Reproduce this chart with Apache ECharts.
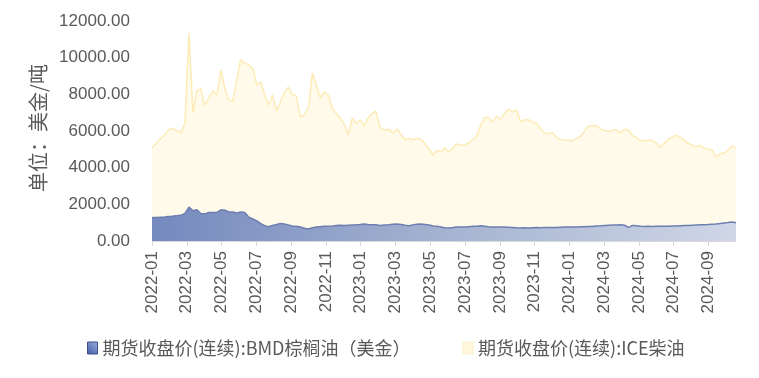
<!DOCTYPE html>
<html>
<head>
<meta charset="utf-8">
<script src="https://cdn.jsdelivr.net/npm/echarts@6/dist/echarts.min.js"></script>
<style>
  html, body { margin: 0; padding: 0; background: #fff; }
  #chart { width: 759px; height: 378px; }
</style>
</head>
<body>
<div id="chart"></div>
<script>
// 周度数据, 从 2022-01-01 开始每 7 天一个点
var startDay = '2022-01-01'
var seriesNames = ['期货收盘价(连续):BMD棕榈油（美金）', '期货收盘价(连续):ICE柴油']

// ICE柴油 (美金/吨)
var iceDiesel = [
  5070, 5300, 5550, 5750, 6000, 6150, 6050, 5900, 6400, 11350,
  7000, 8200, 8300, 7400, 7800, 8200, 7960, 9330, 8300, 7700,
  7600, 8800, 9900, 9700, 9600, 9400, 8510, 8670, 7950, 7420,
  7960, 7100, 7580, 8100, 8400, 8000, 7900, 6760, 6900, 7310,
  9160, 8500, 7800, 8130, 7960, 7250, 6950, 6700, 6350, 5780,
  6710, 6400, 6600, 6250, 6700, 6950, 7100, 6200, 6050, 6100,
  5900, 6100, 5800, 5540, 5600, 5510, 5600, 5550, 5320, 5030,
  4690, 4950, 4860, 5070, 4850, 5070, 5300, 5220, 5220, 5380,
  5510, 5720, 6330, 6710, 6760, 6490, 6800, 6650, 6950, 7200,
  7040, 7150, 6500, 6600, 6620, 6480, 6440, 6130, 5900, 5850,
  5900, 5650, 5550, 5500, 5500, 5470, 5580, 5700, 5950, 6250,
  6300, 6300, 6100, 6010, 5970, 6050, 6050, 5900, 6100, 6050,
  5750, 5620, 5450, 5470, 5510, 5480, 5350, 5120, 5350, 5560,
  5650, 5780, 5650, 5480, 5330, 5220, 5130, 5220, 5070, 5000,
  4980, 4580, 4760, 4800, 4950, 5200, 5070
]

// BMD棕榈油 (美金/吨)
var bmdPalm = [
  1280, 1280, 1290, 1300, 1330, 1350, 1380, 1400, 1500, 1850,
  1650, 1700, 1500, 1480, 1550, 1560, 1560, 1700, 1680, 1580,
  1580, 1530, 1580, 1560, 1300, 1200, 1100, 950, 840, 780,
  850, 900, 960, 930, 880, 820, 800, 760, 700, 650,
  720, 760, 780, 800, 810, 820, 850, 860, 850, 860,
  870, 880, 900, 930, 900, 890, 880, 850, 870, 880,
  910, 930, 900, 860, 830, 880, 920, 930, 900, 870,
  820, 800, 760, 720, 710, 730, 760, 770, 760, 780,
  800, 810, 830, 810, 780, 770, 760, 770, 760, 750,
  740, 720, 710, 720, 710, 720, 730, 720, 730, 740,
  740, 740, 750, 760, 760, 770, 770, 780, 780, 790,
  790, 820, 830, 850, 860, 870, 870, 880, 860, 740,
  850, 830, 800, 790, 800, 790, 800, 800, 810, 810,
  820, 820, 830, 840, 850, 860, 870, 880, 890, 900,
  920, 930, 950, 980, 1010, 1040, 1000
]

// 日期 -> 从 2022-01 起的月份数 (带小数)
function toMonth(d) {
  var days = new Date(d.getFullYear(), d.getMonth() + 1, 0).getDate()
  return (d.getFullYear() - 2022) * 12 + d.getMonth() + (d.getDate() - 1) / days
}

var base = new Date(startDay + 'T00:00:00')
var xs = iceDiesel.map(function (v, i) {
  var d = new Date(base.getFullYear(), base.getMonth(), base.getDate() + i * 7)
  return toMonth(d)
})
var xMax = xs[xs.length - 1]

var monthTicks = []
for (var m = 0; m <= xMax; m += 2) monthTicks.push(m)

function monthLabel(m) {
  var y = 2022 + Math.floor(m / 12)
  var mm = (m % 12) + 1
  return y + '-' + (mm < 10 ? '0' + mm : mm)
}

var labelFont = 'Liberation Sans'
var cjkFont = '"Noto Sans CJK SC", "Liberation Sans", sans-serif'

var chart = echarts.init(document.getElementById('chart'))
chart.setOption({
  animation: false,
  grid: { left: 152, right: 23, top: 21, bottom: 137 },
  legend: {
    top: 334,
    left: 82,
    itemGap: 52,
    itemWidth: 10,
    itemHeight: 12,
    icon: 'rect',
    textStyle: { color: '#595959', fontSize: 18, fontFamily: cjkFont },
    data: [
      {
        name: seriesNames[0],
        itemStyle: {
          color: new echarts.graphic.LinearGradient(0, 1, 1, 0, [
            { offset: 0, color: '#3e5ca8' },
            { offset: 1, color: '#9db1dc' }
          ]),
          borderColor: '#3b4f8a',
          borderWidth: 1
        }
      },
      {
        name: seriesNames[1],
        itemStyle: { color: '#fff6dc', borderColor: '#fdf0c8', borderWidth: 1 }
      }
    ]
  },
  xAxis: {
    type: 'value',
    min: 0,
    max: xMax,
    interval: 2,
    axisLine: { show: true, lineStyle: { color: '#d9d9d9', width: 1 } },
    axisTick: { show: true, length: 5, customValues: monthTicks, lineStyle: { color: '#d9d9d9' } },
    splitLine: { show: false },
    axisLabel: {
      customValues: monthTicks,
      rotate: 90,
      margin: 10,
      color: '#595959',
      fontSize: 17,
      fontFamily: labelFont,
      formatter: monthLabel
    }
  },
  yAxis: {
    type: 'value',
    min: 0,
    max: 12000,
    interval: 2000,
    name: '单位：美金/吨',
    nameLocation: 'middle',
    nameGap: 100,
    nameTextStyle: { color: '#595959', fontSize: 20, fontFamily: cjkFont, padding: [0, 0, 0, 6] },
    axisLine: { show: false },
    axisTick: { show: false },
    splitLine: { show: false },
    axisLabel: {
      margin: 22,
      color: '#595959',
      fontSize: 17,
      fontFamily: labelFont,
      formatter: function (v) { return v.toFixed(2) }
    }
  },
  series: [
    {
      name: seriesNames[0],
      type: 'line',
      z: 3,
      symbol: 'none',
      data: xs.map(function (x, i) { return [x, bmdPalm[i]] }),
      lineStyle: { color: '#6c7fb0', width: 1.5 },
      itemStyle: { color: '#6c7fb0' },
      areaStyle: {
        opacity: 1,
        color: new echarts.graphic.LinearGradient(0, 0, 1, 0, [
          { offset: 0, color: '#7489be' },
          { offset: 0.5, color: '#a5b3d1' },
          { offset: 1, color: '#cfd6e6' }
        ])
      }
    },
    {
      name: seriesNames[1],
      type: 'line',
      z: 2,
      symbol: 'none',
      data: xs.map(function (x, i) { return [x, iceDiesel[i]] }),
      lineStyle: { color: '#fdecb8', width: 1.5 },
      itemStyle: { color: '#fdecb8' },
      areaStyle: { opacity: 1, color: '#fffaea' }
    }
  ]
})
</script>
</body>
</html>
